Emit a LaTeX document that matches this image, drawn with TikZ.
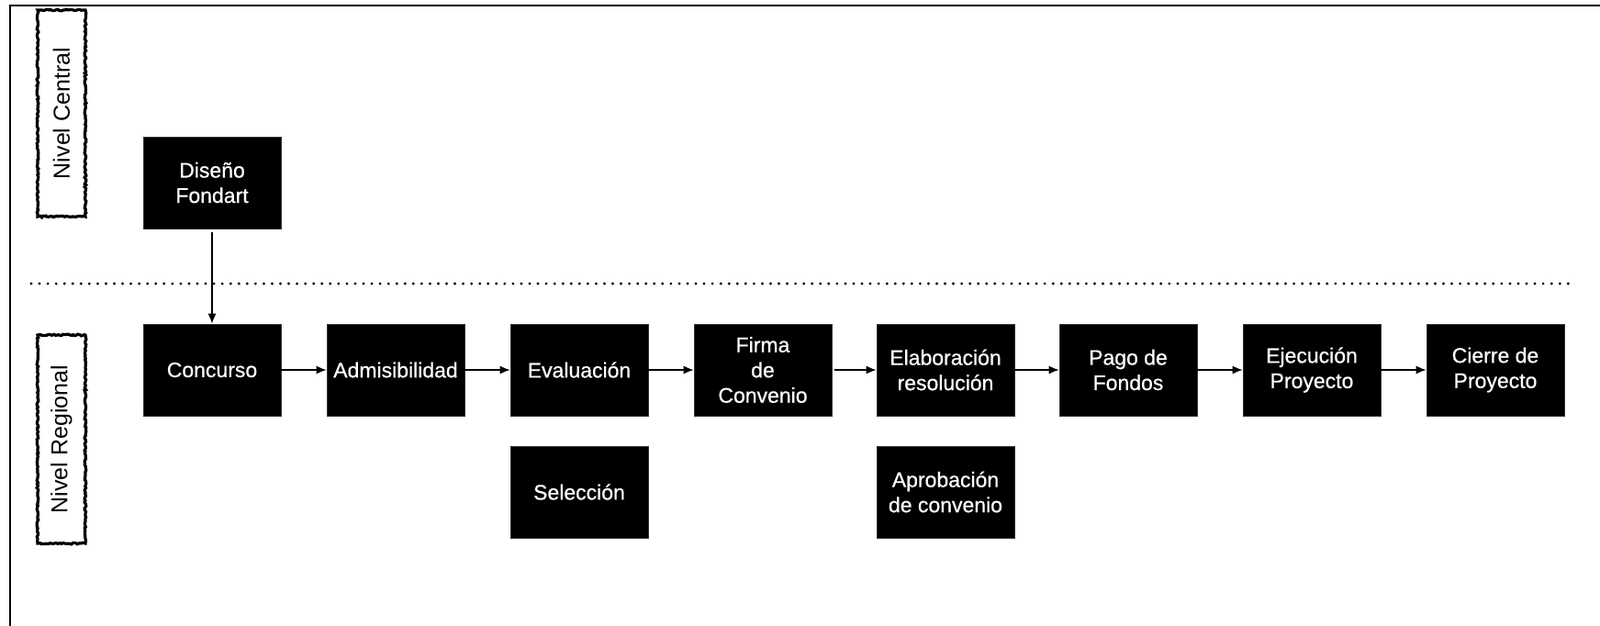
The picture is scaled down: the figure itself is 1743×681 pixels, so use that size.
\documentclass[tikz,border=0pt]{standalone}
\usepackage{fontspec}
\setmainfont{Liberation Sans}
\newfontfamily\boxfont[BoldFont=Liberation Sans,BoldFeatures={FakeBold=0.6}]{Liberation Sans}
\usetikzlibrary{arrows.meta,decorations.pathmorphing}
\begin{document}
\begin{tikzpicture}[x=1pt,y=-1pt,
  blk/.style={fill=black,draw=black!80,line width=0.6pt,text=white,minimum width=150pt,minimum height=100pt,inner sep=0pt,align=center,font=\boxfont\bfseries\fontsize{23}{27.5}\selectfont},
  lvl/.style={draw,line width=3.2pt,decorate,decoration={random steps,segment length=2pt,amplitude=0.9pt},minimum height=52pt,inner sep=0pt,font=\boxfont\fontsize{25}{30}\selectfont,rotate=90},
  arr/.style={line width=1.5pt,-{Latex[length=11pt,width=9pt]}},
  frame/.style={line width=2.8pt},
  sep/.style={line width=3.2pt,line cap=round,dash pattern=on 0pt off 9.05pt}
]
\useasboundingbox (0,0) rectangle (1743,681);
\fill[white] (0,0) rectangle (1743,681);
% frame
\coordinate (fb) at (11,682);
\coordinate (fc) at (11,6);
\coordinate (fr) at (1744,6);
\draw[frame] (fb) -- (fc) -- (fr);
% level labels
\node[lvl,minimum width=225pt] (central) at (67,123.5) {Nivel Central};
\node[lvl,minimum width=227pt] (regional) at (67,478.5) {Nivel Regional};
% separator
\coordinate (sa) at (34,309);
\coordinate (sb) at (1712,309);
\draw[sep] (sa) -- (sb);
% boxes
\node[blk] (dis) at (231,199) {Diseño\\Fondart};
\node[blk] (b1) at (231,403) {Concurso};
\node[blk] (b2) at (431,403) {Admisibilidad};
\node[blk] (b3) at (631,403) {Evaluación};
\node[blk] (b4) at (831,403) {Firma\\de\\Convenio};
\node[blk] (b5) at (1030,403) {Elaboración\\resolución};
\node[blk] (b6) at (1229,403) {Pago de\\Fondos};
\node[blk] (b7) at (1429,403) {Ejecución\\Proyecto};
\node[blk] (b8) at (1629,403) {Cierre de\\Proyecto};
\node[blk] (s1) at (631,536) {Selección};
\node[blk] (s2) at (1030,536) {Aprobación\\de convenio};
% arrows
\draw[arr] ([yshift=-4pt]dis.south) -- (b1.north);
\draw[arr] (b1.east) -- (b2.west);
\draw[arr] (b2.east) -- (b3.west);
\draw[arr] (b3.east) -- (b4.west);
\draw[arr] ([xshift=3pt]b4.east) -- (b5.west);
\draw[arr] (b5.east) -- (b6.west);
\draw[arr] (b6.east) -- (b7.west);
\draw[arr] (b7.east) -- (b8.west);
\end{tikzpicture}
\end{document}
